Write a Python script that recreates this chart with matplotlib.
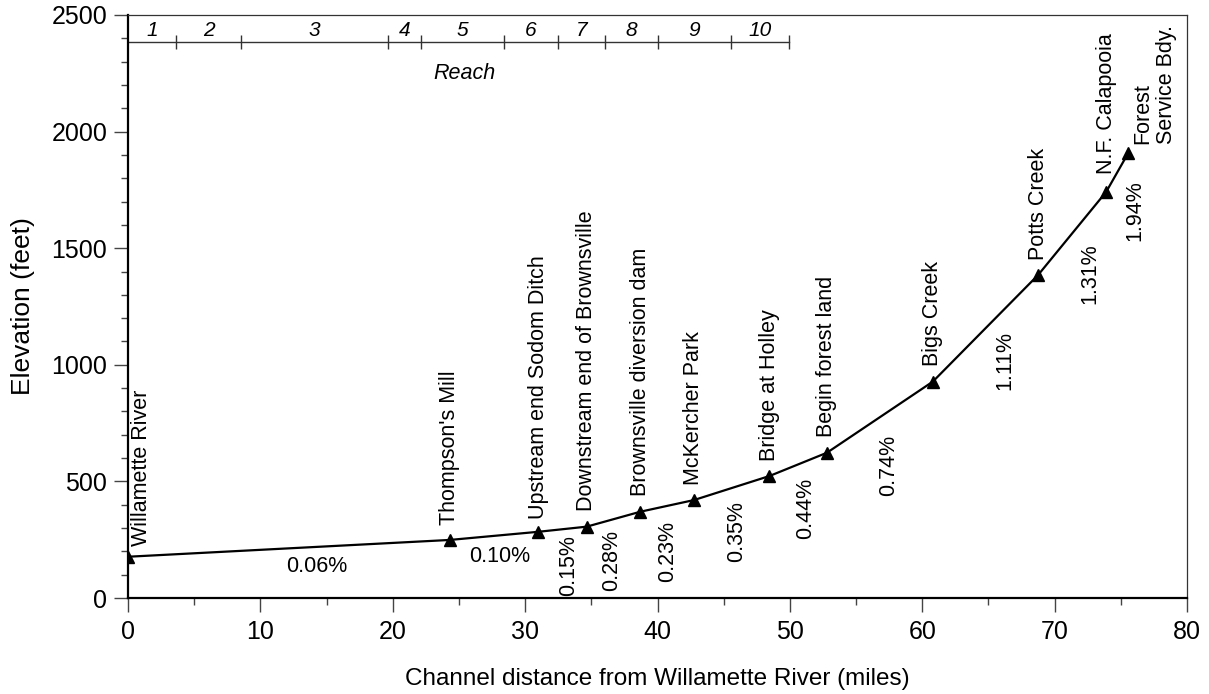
import numpy as np
import matplotlib.pyplot as plt
from matplotlib.ticker import MultipleLocator

plt.rcParams['font.family'] = ['Liberation Sans', 'DejaVu Sans']

# Profile points
places = ["Willamette River", "Thompson's Mill", "Upstream end Sodom Ditch",
          "Downstream end of Brownsville", "Brownsville diversion dam",
          "McKercher Park", "Bridge at Holley", "Begin forest land",
          "Bigs Creek", "Potts Creek", "N.F. Calapooia", "Forest\nService Bdy."]
dist = [0, 24.3, 31.0, 34.65, 38.7, 42.75, 48.45, 52.8, 60.8, 68.75, 73.9, 75.55]
elev = [177, 249, 284, 306, 370, 420, 523, 623, 928, 1385, 1742, 1907]

# Slope labels
slopes = ["0.06%", "0.10%", "0.15%", "0.28%", "0.23%", "0.35%",
          "0.44%", "0.74%", "1.11%", "1.31%", "1.94%"]
slope_x = [14.25, 28.1, 33.27, 36.5, 40.8, 46.0, 51.2, 57.45, 66.25, 72.7, 76.05]
slope_y = [134, 177, 138, 163, 198, 283, 382, 567, 1020, 1392, 1660]

# Reaches
reach_bounds = [0, 3.6, 8.55, 19.65, 22.1, 28.4, 32.45, 36.05, 40.05, 45.55, 49.9]
reach_names = [str(i) for i in range(1, 11)]
reach_elev = 2385

fig = plt.figure(figsize=(12.09, 6.94), dpi=100)
ax = fig.add_axes([0.1059, 0.1383, 0.8759, 0.8401])

ax.plot(dist, elev, color='black', lw=1.6, marker='^', ms=9, zorder=3)

# labels for places
offsets = {0: (10, 8), 2: (0, 9), 10: (0, 13), 11: (19, 7)}
for i, (name, x, y) in enumerate(zip(places, dist, elev)):
    dx, dy = offsets.get(i, (0, 11))
    ax.annotate(name, (x, y), xytext=(dx, dy), textcoords='offset points',
                rotation=90, ha='center', va='bottom', fontsize=15.5,
                multialignment='left', annotation_clip=False)

for s, x, y in zip(slopes, slope_x, slope_y):
    rot = 0 if s in ("0.06%", "0.10%") else 90
    ax.text(x, y, s, rotation=rot, ha='center', va='center', fontsize=15.5)

# reach bar
ax.plot([reach_bounds[0], reach_bounds[-1]], [reach_elev, reach_elev],
        color='#333333', lw=1.0)
ax.plot(reach_bounds[1:], [reach_elev] * (len(reach_bounds) - 1), ls='none',
        marker='|', ms=9.5, mew=1.0, color='#333333')
for k, name in enumerate(reach_names):
    mid = (reach_bounds[k] + reach_bounds[k + 1]) / 2
    ax.annotate(name, (mid, reach_elev), xytext=(0, 1), textcoords='offset points',
                ha='center', va='bottom', fontsize=15, style='italic')
ax.text(25.4, 2249, "Reach", ha='center', va='center', fontsize=15.5, style='italic')

ax.set_xlim(0, 80)
ax.set_ylim(0, 2500)
ax.xaxis.set_major_locator(MultipleLocator(10))
ax.xaxis.set_minor_locator(MultipleLocator(5))
ax.yaxis.set_major_locator(MultipleLocator(500))
ax.yaxis.set_minor_locator(MultipleLocator(100))
ax.tick_params(which='major', direction='out', length=10, width=1.0,
               color='#444444', labelsize=18, pad=5)
ax.tick_params(which='minor', direction='out', length=5, width=1.0, color='#444444')
ax.tick_params(axis='x', which='major', pad=6)

for side in ('left', 'bottom'):
    ax.spines[side].set_linewidth(1.6)
for side in ('top', 'right'):
    ax.spines[side].set_linewidth(0.9)
    ax.spines[side].set_color('#333333')

ax.set_xlabel("Channel distance from Willamette River (miles)", fontsize=17.5, labelpad=17)
ax.set_ylabel("Elevation (feet)", fontsize=19, labelpad=12)

fig.savefig("out.png", dpi=100)
